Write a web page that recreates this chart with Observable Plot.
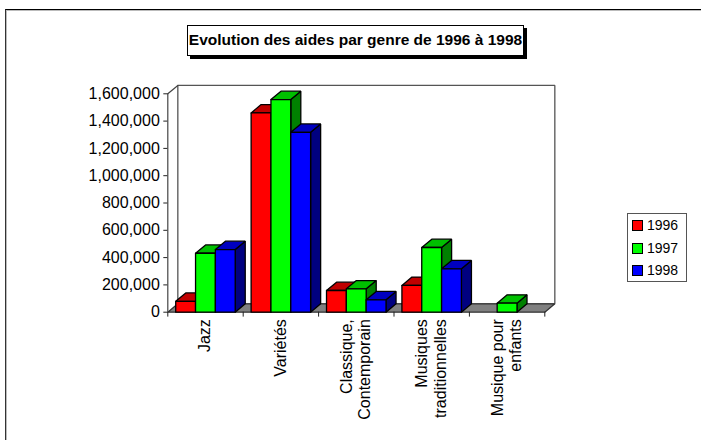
<!DOCTYPE html>
<html><head><meta charset="utf-8">
<script src="https://cdn.jsdelivr.net/npm/d3@7"></script>
<script src="https://cdn.jsdelivr.net/npm/@observablehq/plot@0.6"></script>
<style>
html,body{margin:0;padding:0;background:#fff}
#wrap{position:relative;width:701px;height:440px;overflow:hidden;font-family:"Liberation Sans",Arial,sans-serif;color:#000}
#frame{position:absolute;left:5px;top:9px;width:720px;height:460px;border-top:1.5px solid #000;border-left:1.5px solid #333;box-shadow:inset 1px 1px 0 #bbb}
#title{position:absolute;left:187px;top:25px;width:335px;height:29px;border:1px solid #000;background:#fff;box-shadow:3px 3px 0 #000;font-weight:bold;font-size:15.5px;line-height:28px;text-align:center;white-space:nowrap}
#legend{position:absolute;left:627px;top:213px;width:58px;height:67px;border:1px solid #555;background:#fff;font-size:14px}
#legend div{position:absolute;left:4px;height:16px;line-height:16px;white-space:nowrap}
#legend i{display:inline-block;width:9px;height:9px;border:1px solid #000;margin-right:4px;vertical-align:-1px}
svg{position:absolute;left:0;top:0}
</style></head>
<body><div id="wrap"></div>
<script>
const genres = ["Jazz", "Variétés", "Classique,\nContemporain", "Musiques\ntraditionnelles", "Musique pour\nenfants"];
const years = ["1996", "1997", "1998"];
const aides1996 = [80000, 1460000, 159000, 196000, null];
const aides1997 = [432000, 1558000, 171000, 474000, 66000];
const aides1998 = [459000, 1318000, 91000, 318000, null];
const yTicks = [0, 200000, 400000, 600000, 800000, 1000000, 1200000, 1400000, 1600000];
const frontColors = ["#ff0000", "#00ff00", "#0000ff"];
const topColors = ["#c00000", "#00c000", "#0000c0"];
const sideColors = ["#800000", "#008000", "#000080"];
const series = [aides1996, aides1997, aides1998];

// 3D depth expressed in axis units
const depthX = 0.133, depthY = 61000;
const barW = 0.263, groupPad = 0.105;

const polys = [];
let id = 0;
function poly(points, fill, stroke) {
  id++;
  points.concat([points[0]]).forEach(([x, y]) => polys.push({x, y, id, fill, stroke}));
}
const n = genres.length, yMax = 1600000;
// back wall and floor
poly([[depthX, depthY], [n + depthX, depthY], [n + depthX, yMax + depthY], [depthX, yMax + depthY]], "#fff", "#555");
poly([[0, 0], [depthX, depthY], [n + depthX, depthY], [n, 0]], "#808080", "#333");

genres.forEach((g, i) => {
  series.forEach((s, k) => {
    const v = s[i];
    if (v == null) return;
    const x0 = i + groupPad + k * barW, x1 = x0 + barW;
    poly([[x1, 0], [x1 + depthX, depthY], [x1 + depthX, v + depthY], [x1, v]], sideColors[k], "#000");
    poly([[x0, v], [x0 + depthX, v + depthY], [x1 + depthX, v + depthY], [x1, v]], topColors[k], "#000");
    poly([[x0, 0], [x0, v], [x1, v], [x1, 0]], frontColors[k], "#000");
  });
});

const labelData = genres.map((g, i) => ({g, x: i + 0.5, y: 0}));
const cuts = d3.range(n + 1);

const chart = Plot.plot({
  width: 701, height: 440,
  marginLeft: 167.3, marginRight: 156.7, marginTop: 93.3, marginBottom: 128.3,
  style: {background: "transparent", fontFamily: "'Liberation Sans',Arial,sans-serif", color: "#000"},
  x: {type: "linear", domain: [0, n], axis: null},
  y: {type: "linear", domain: [0, yMax], axis: null},
  marks: [
    Plot.line(polys, {x: "x", y: "y", z: "id", fill: "fill", stroke: "stroke", strokeWidth: 1.3, strokeLinejoin: "miter"}),
    Plot.ruleX([0], {y1: 0, y2: yMax, stroke: "#444", strokeWidth: 1.2}),
    Plot.line([[0, yMax], [depthX, yMax + depthY]], {x: d => d[0], y: d => d[1], stroke: "#444", strokeWidth: 1.2}),
    Plot.axisY({ticks: yTicks, tickFormat: d3.format(","), tickSize: 4, tickPadding: 4, fontSize: 16, label: null, anchor: "left", stroke: "#222"}),
    Plot.ruleX(cuts, {x: d => d, y1: 0, y2: -36000, stroke: "#222"}),
    Plot.text(labelData, {x: "x", y: "y", text: "g", rotate: -90, dx: -1, dy: 7, textAnchor: "end", fontSize: 16, lineHeight: 1.15, fill: "#000"})
  ]
});

const wrap = document.getElementById("wrap");
const frame = document.createElement("div"); frame.id = "frame"; wrap.appendChild(frame);
wrap.appendChild(chart);
const title = document.createElement("div"); title.id = "title";
title.textContent = "Evolution des aides par genre de 1996 à 1998";
wrap.appendChild(title);
const legend = document.createElement("div"); legend.id = "legend";
years.forEach((y, k) => {
  const row = document.createElement("div");
  row.style.top = (3 + k * 22.5) + "px";
  const sw = document.createElement("i"); sw.style.background = frontColors[k];
  row.appendChild(sw); row.appendChild(document.createTextNode(y));
  legend.appendChild(row);
});
wrap.appendChild(legend);
</script></body></html>
